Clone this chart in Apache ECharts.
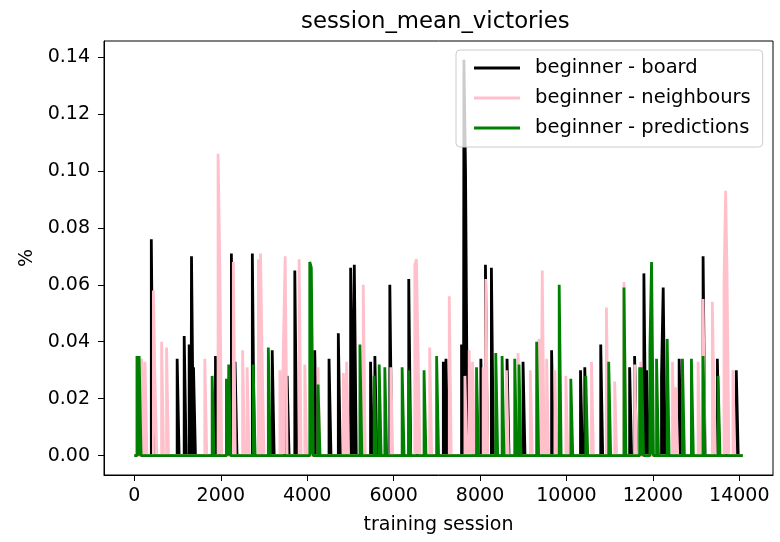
<!DOCTYPE html>
<html lang="en">
<head>
<meta charset="UTF-8">
<title>session_mean_victories</title>
<script src="https://cdn.jsdelivr.net/npm/echarts@6/dist/echarts.min.js"></script>
<style>
  html, body { margin: 0; padding: 0; background: #fff; }
  #chart { width: 780px; height: 542px; }
</style>
</head>
<body>
<div id="chart"></div>
<script>
// spikes: training session -> value (everything else is 0)
const boardSessions = [392, 990, 1153, 1268, 1322, 1368, 1877, 2245, 2330, 2730, 3190, 3535, 3713, 4174, 4505, 4720, 5005, 5090, 5466, 5566, 5912, 6350, 7150, 7211, 7572, 7627, 7664, 8019, 8125, 8263, 8625, 8995, 9656, 10325, 10424, 10793, 11462, 11577, 11792, 11854, 12200, 12239, 12608, 13162, 13492, 13930];
const boardValues = [0.076, 0.034, 0.042, 0.039, 0.070, 0.031, 0.035, 0.071, 0.033, 0.071, 0.037, 0.028, 0.065, 0.037, 0.034, 0.043, 0.066, 0.067, 0.033, 0.035, 0.060, 0.062, 0.033, 0.034, 0.039, 0.139, 0.100, 0.034, 0.067, 0.066, 0.034, 0.033, 0.037, 0.030, 0.031, 0.039, 0.031, 0.035, 0.064, 0.030, 0.028, 0.059, 0.034, 0.070, 0.034, 0.030];

const neighbourSessions = [170, 245, 440, 475, 630, 745, 1630, 1937, 1975, 2290, 2505, 2610, 2870, 2920, 2955, 3367, 3445, 3490, 3813, 3944, 4251, 4837, 4912, 5297, 5935, 6490, 6527, 6565, 6835, 7288, 7650, 7749, 7826, 8072, 8134, 8610, 8879, 9163, 9363, 9440, 9541, 9732, 9986, 10579, 10925, 11116, 11331, 11577, 11720, 12454, 12530, 13046, 13162, 13376, 13407, 13646, 13684, 13715, 13853];
const neighbourValues = [0.034, 0.033, 0.058, 0.027, 0.040, 0.038, 0.034, 0.106, 0.070, 0.068, 0.037, 0.031, 0.069, 0.071, 0.035, 0.030, 0.036, 0.070, 0.069, 0.032, 0.031, 0.029, 0.033, 0.060, 0.031, 0.067, 0.069, 0.037, 0.038, 0.056, 0.028, 0.037, 0.033, 0.031, 0.062, 0.030, 0.036, 0.030, 0.041, 0.065, 0.034, 0.030, 0.028, 0.033, 0.052, 0.026, 0.061, 0.032, 0.033, 0.033, 0.024, 0.033, 0.055, 0.054, 0.026, 0.061, 0.093, 0.065, 0.030];

const predictionSessions = [60, 110, 1800, 2130, 2183, 2750, 3100, 4059, 4095, 4251, 5220, 5550, 5666, 5796, 6197, 6350, 6704, 6995, 7918, 8364, 8510, 8803, 8902, 9310, 9832, 10101, 10447, 10978, 11331, 11693, 11739, 11931, 11969, 12085, 12331, 12684, 12892, 13162, 13508];
const predictionValues = [0.035, 0.035, 0.028, 0.027, 0.032, 0.032, 0.038, 0.068, 0.066, 0.025, 0.039, 0.028, 0.032, 0.031, 0.031, 0.030, 0.030, 0.035, 0.031, 0.036, 0.035, 0.034, 0.032, 0.040, 0.060, 0.027, 0.028, 0.033, 0.059, 0.031, 0.031, 0.037, 0.068, 0.034, 0.041, 0.034, 0.034, 0.035, 0.028];

const lastSession = 14080;
const xTicks = [0, 2000, 4000, 6000, 8000, 10000, 12000, 14000];
const yTicks = [0, 0.02, 0.04, 0.06, 0.08, 0.10, 0.12, 0.14];

// each spike is held for a few logged sessions
const SPIKE = 45;
function toLine(sessions, values) {
  const pts = [[0, 0]];
  for (let i = 0; i < sessions.length; i++) {
    const s = sessions[i];
    const prev = i > 0 ? sessions[i - 1] + SPIKE : -1;
    if (s > prev) {
      if (i > 0) pts.push([prev, 0]);
      pts.push([s, 0]);
    } else {
      pts[pts.length - 1][0] = s;
    }
    pts.push([s, values[i]], [s + SPIKE, values[i]]);
  }
  pts.push([sessions[sessions.length - 1] + SPIKE, 0], [lastSession, 0]);
  return pts;
}

const font = 'DejaVu Sans';
function spikeSeries(name, color, sessions, values) {
  return {
    name: name, type: 'line', symbol: 'none', color: color,
    lineStyle: { width: 2.8 },
    areaStyle: { color: color, opacity: 1, origin: 0 },
    data: toLine(sessions, values)
  };
}

const chart = echarts.init(document.getElementById('chart'));
chart.setOption({
  animation: false,
  title: {
    text: 'session_mean_victories',
    left: 296, top: 6,
    textStyle: { fontFamily: font, fontSize: 22.8, fontWeight: 'normal', color: '#000' }
  },
  legend: {
    orient: 'vertical',
    left: 456, top: 50,
    padding: [8, 12, 9, 18],
    itemGap: 10,
    itemWidth: 46, itemHeight: 3,
    icon: 'rect',
    borderColor: '#cccccc', borderWidth: 1, borderRadius: 4,
    backgroundColor: 'rgba(255,255,255,0.8)',
    textStyle: { fontFamily: font, fontSize: 19.5, color: '#000', padding: [0, 0, 0, 10] },
    data: ['beginner - board', 'beginner - neighbours', 'beginner - predictions']
  },
  grid: {
    left: 104, right: 7, top: 41, bottom: 67,
    show: true, borderColor: '#000', borderWidth: 1
  },
  xAxis: {
    type: 'value', min: -703, max: 14780,
    name: 'training session', nameLocation: 'middle', nameGap: 41,
    nameTextStyle: { fontFamily: font, fontSize: 19, color: '#000' },
    axisLine: { show: true, onZero: false, lineStyle: { color: '#000' } },
    axisTick: { show: true, length: 6, customValues: xTicks, lineStyle: { color: '#000' } },
    axisLabel: {
      customValues: xTicks, fontFamily: font, fontSize: 19, color: '#000', margin: 12,
      formatter: v => String(v)
    },
    splitLine: { show: false }
  },
  yAxis: {
    type: 'value', min: -0.0068, max: 0.1456,
    name: '%', nameLocation: 'middle', nameGap: 66, nameRotate: 90,
    nameTextStyle: { fontFamily: font, fontSize: 19, color: '#000' },
    axisLine: { show: true, onZero: false, lineStyle: { color: '#000' } },
    axisTick: { show: true, length: 6, customValues: yTicks, lineStyle: { color: '#000' } },
    axisLabel: {
      customValues: yTicks, fontFamily: font, fontSize: 19, color: '#000', margin: 14,
      formatter: v => v.toFixed(2)
    },
    splitLine: { show: false }
  },
  series: [
    spikeSeries('beginner - board', '#000000', boardSessions, boardValues),
    spikeSeries('beginner - neighbours', '#ffc0cb', neighbourSessions, neighbourValues),
    spikeSeries('beginner - predictions', '#008000', predictionSessions, predictionValues)
  ]
});
</script>
</body>
</html>
